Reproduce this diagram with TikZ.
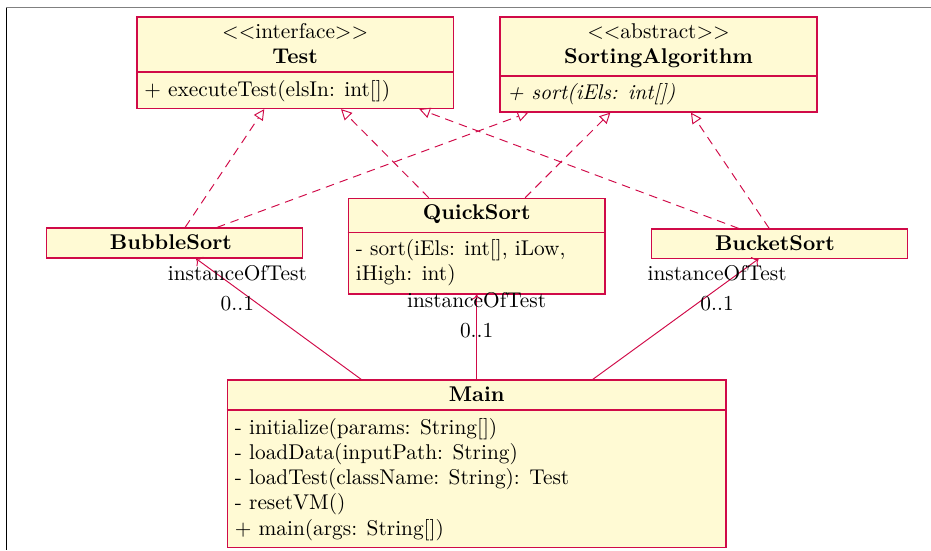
\documentclass[tikz,border=0pt]{standalone}
\usetikzlibrary{arrows.meta,fit}
\definecolor{umlline}{RGB}{208,10,72}
\definecolor{umlfill}{RGB}{255,250,212}
\begin{document}
\begin{tikzpicture}[x=0.4685pt,y=-0.4685pt,
  classbox/.style={draw=umlline, fill=umlfill, line width=0.55pt, inner sep=0pt, rectangle},
  divider/.style={draw=umlline, line width=0.55pt},
  titletxt/.style={inner sep=0pt, anchor=base},
  optxt/.style={inner sep=0pt, anchor=base west},
  realize/.style={draw=umlline, line width=0.45pt, dash pattern=on 4pt off 2.8pt,
    -{Triangle[open, length=5pt, width=5pt]}},
  assoc/.style={draw=umlline, line width=0.45pt, ->},
  roletxt/.style={inner sep=0.333em}
]
\useasboundingbox (0,0) rectangle (931,550);

% page frame
\draw[gray, line width=1.2pt*0.4685] (6,7.5) -- (931,7.5);
\draw[black, line width=1pt*0.4685] (6.5,8) -- (6.5,550);

% class boxes
\node[classbox, fit={(137,17) (453.5,108.5)}] (test) {};
\node[classbox, fit={(500,17) (817,112)}] (sort) {};
\node[classbox, fit={(348.3,198.3) (605,294)}] (quick) {};
\node[classbox, fit={(46.7,228) (302.7,258)}] (bubble) {};
\node[classbox, fit={(651.7,229) (907.3,258.3)}] (bucket) {};
\node[classbox, fit={(227.3,380) (726,547.7)}] (main) {};

% compartment dividers
\draw[divider] (test.west |- 0,72) -- (test.east |- 0,72);
\draw[divider] (sort.west |- 0,76) -- (sort.east |- 0,76);
\draw[divider] (quick.west |- 0,232.3) -- (quick.east |- 0,232.3);
\draw[divider] (main.west |- 0,410) -- (main.east |- 0,410);

% Test
\node[titletxt] (test-st) at (295.2,38.5) {$<<$interface$>>$};
\node[titletxt] (test-name) at (295.2,63.5) {\textbf{Test}};
\node[optxt] (test-op) at (144,96) {+ executeTest(elsIn: int[])};

% SortingAlgorithm
\node[titletxt] (sort-st) at (658.5,38.5) {$<<$abstract$>>$};
\node[titletxt] (sort-name) at (658.5,63.5) {\textbf{SortingAlgorithm}};
\node[optxt] (sort-op) at (507,99) {\textit{+ sort(iEls: int[])}};

% QuickSort
\node[titletxt] (quick-name) at (476.7,219.5) {\textbf{QuickSort}};
\node[optxt] (quick-op1) at (355.5,255.5) {- sort(iEls: int[], iLow,};
\node[optxt] (quick-op2) at (355.5,280.5) {iHigh: int)};

% BubbleSort and BucketSort
\node[titletxt] (bubble-name) at (171,249.5) {\textbf{BubbleSort}};
\node[titletxt] (bucket-name) at (775,250.5) {\textbf{BucketSort}};

% Main
\node[titletxt] (main-name) at (476.7,401.5) {\textbf{Main}};
\node[optxt] (main-op1) at (234.5,434) {- initialize(params: String[])};
\node[optxt] (main-op2) at (234.5,459.2) {- loadData(inputPath: String)};
\node[optxt] (main-op3) at (234.5,484.5) {- loadTest(className: String): Test};
\node[optxt] (main-op4) at (234.5,509.8) {- resetVM()};
\node[optxt] (main-op5) at (234.5,535) {+ main(args: String[])};

% realizations
\draw[realize] (bubble) -- (test);
\draw[realize] (bubble) -- (sort);
\draw[realize] (quick) -- (test);
\draw[realize] (quick) -- (sort);
\draw[realize] (bucket) -- (test);
\draw[realize] (bucket) -- (sort);

% associations
\draw[assoc] (main) -- (bubble)
  node[roletxt, pos=0.75, above] (r1) {instanceOfTest}
  node[roletxt, pos=0.75, below] (m1) {0..1};
\draw[assoc] (main) -- (quick)
  node[roletxt, pos=0.75, above] (r2) {instanceOfTest}
  node[roletxt, pos=0.75, below] (m2) {0..1};
\draw[assoc] (main) -- (bucket)
  node[roletxt, pos=0.75, above] (r3) {instanceOfTest}
  node[roletxt, pos=0.75, below] (m3) {0..1};
\end{tikzpicture}
\end{document}
